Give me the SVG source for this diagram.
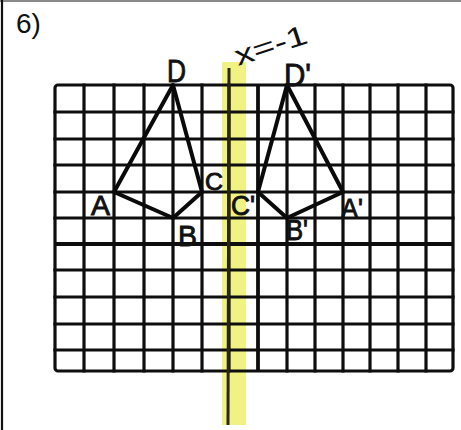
<svg xmlns="http://www.w3.org/2000/svg" width="461" height="430" viewBox="0 0 461 430">
  <style>
    .grid { stroke: #0e0e0e; stroke-width: 3.2; fill: none; stroke-linecap: square; }
    .axis { stroke: #0e0e0e; stroke-width: 3.8; fill: none; }
    .kite { stroke: #0a0a0a; stroke-width: 4; fill: none; stroke-linejoin: round; stroke-linecap: round; }
    .lbl { font-family: "Liberation Sans", Arial, sans-serif; fill: #111; }
    .hand { stroke: #111; stroke-width: 0.9; }
  </style>
  <rect x="0" y="0" width="461" height="430" fill="#ffffff"/>
  <!-- page edges -->
  <line x1="0" y1="1" x2="461" y2="1" stroke="#8a8a8a" stroke-width="2"/>
  <line x1="2" y1="0" x2="2" y2="430" stroke="#111" stroke-width="2.2"/>

  <text class="lbl" x="16" y="33" font-size="28">6)</text>

  <!-- highlighter band -->
  <g id="highlight">
    <rect x="222" y="62" width="24" height="363" fill="#eef06e" opacity="0.85"/>
  </g>

  <!-- grid -->
  <g id="grid">
    <rect class="grid" x="55" y="85" width="398" height="286" rx="3"/>
    <path class="grid" d="M84 85V371 M114 85V371 M144 85V371 M173 85V371 M202 85V371 M229 85V371 M287 85V371 M315 85V371 M343 85V371 M370 85V371 M398 85V371 M426 85V371"/>
    <path class="grid" d="M55 112H453 M55 139H453 M55 165H453 M55 192H453 M55 218H453 M55 270H453 M55 297H453 M55 324H453 M55 350H453"/>
    <path class="axis" d="M258 85V371 M55 244H453"/>
  </g>

  <!-- reflection line x = -1 -->
  <g id="connectors">
    <line x1="229" y1="68" x2="228" y2="425" stroke="#2a2610" stroke-width="3"/>
  </g>

  <g id="kite-ABCD">
    <polygon class="kite" points="173,85 114,192 173,218 202,192"/>
  </g>
  <g id="kite-ABCD-prime">
    <polygon class="kite" points="287,85 343,192 287,218 258,192"/>
  </g>

  <g id="labels">
    <text id="lbl-D" class="lbl hand" x="167" y="82" font-size="32" textLength="19" lengthAdjust="spacingAndGlyphs">D</text>
    <text id="lbl-A" class="lbl hand" x="91" y="215" font-size="27" textLength="19" lengthAdjust="spacingAndGlyphs">A</text>
    <text id="lbl-B" class="lbl hand" x="178" y="246" font-size="30" textLength="19" lengthAdjust="spacingAndGlyphs">B</text>
    <text id="lbl-C" class="lbl hand" x="205" y="190" font-size="24" textLength="18" lengthAdjust="spacingAndGlyphs">C</text>
    <text id="lbl-Dp" class="lbl hand" x="284" y="86" font-size="32" textLength="27" lengthAdjust="spacingAndGlyphs">D'</text>
    <text id="lbl-Ap" class="lbl hand" x="341" y="218" font-size="27" textLength="22" lengthAdjust="spacingAndGlyphs">A'</text>
    <text id="lbl-Bp" class="lbl hand" x="286" y="240" font-size="30" textLength="22" lengthAdjust="spacingAndGlyphs">B'</text>
    <text id="lbl-Cp" class="lbl hand" x="231" y="215" font-size="27" textLength="24" lengthAdjust="spacingAndGlyphs">C'</text>
    <text id="lbl-line" class="lbl" x="238" y="66" font-size="28" textLength="75" lengthAdjust="spacingAndGlyphs" transform="rotate(-18 238 66)">x=-1</text>
  </g>
</svg>
